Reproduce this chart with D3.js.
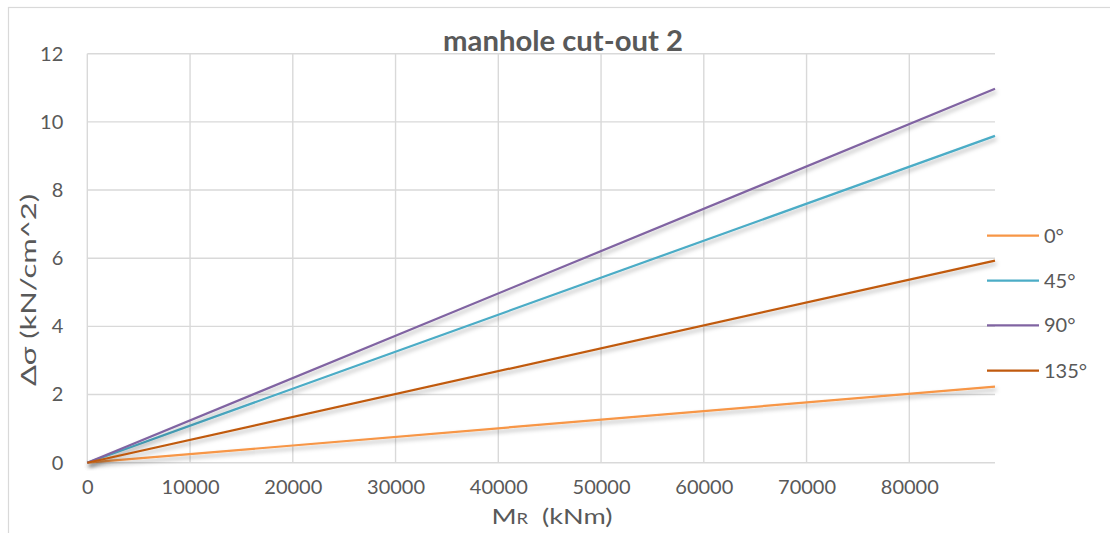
<!DOCTYPE html>
<html>
<head>
<meta charset="utf-8">
<script src="https://cdn.jsdelivr.net/npm/d3@7"></script>
<style>
  html, body { margin: 0; padding: 0; background: #fff; }
  svg { display: block; font-family: Lato, "Open Sans", sans-serif; }
</style>
</head>
<body>
<svg id="chart" width="1110" height="533"></svg>
<script>
// Series: stress increase Δσ against moment M_R, one line per angle
const seriesNames = ["0°", "45°", "90°", "135°"];
const seriesColors = ["#F79646", "#4BACC6", "#8064A2", "#C05A0E"];
const momentValues = [0, 88340];
const stress0 = [0, 2.23];
const stress45 = [0, 9.59];
const stress90 = [0, 10.97];
const stress135 = [0, 5.93];
const xTicks = [0, 10000, 20000, 30000, 40000, 50000, 60000, 70000, 80000];
const yTicks = [0, 2, 4, 6, 8, 10, 12];

const seriesValues = [stress0, stress45, stress90, stress135];

const svg = d3.select("#chart");
const W = 1110, H = 533;
const plot = { left: 87.3, right: 995, top: 53.7, bottom: 462.7 };

// Outer chart frame (extends beyond the visible canvas on right/bottom)
svg.append("rect")
  .attr("x", 8.5).attr("y", 7.5)
  .attr("width", W + 20).attr("height", H + 20)
  .attr("fill", "#fff").attr("stroke", "#d9d9d9").attr("stroke-width", 1.2);

const x = d3.scaleLinear().domain([0, 88340]).range([plot.left, plot.right]);
const y = d3.scaleLinear().domain([0, 12]).range([plot.bottom, plot.top]);

const defs = svg.append("defs");
const f = defs.append("filter").attr("id", "shadow")
  .attr("x", "-10%").attr("y", "-10%").attr("width", "130%").attr("height", "140%");
f.append("feDropShadow")
  .attr("dx", 1.5).attr("dy", 3).attr("stdDeviation", 2)
  .attr("flood-color", "#000").attr("flood-opacity", 0.3);

// Gridlines
const grid = svg.append("g");
grid.selectAll("line.h").data(yTicks).join("line")
  .attr("x1", plot.left).attr("x2", plot.right)
  .attr("y1", d => y(d)).attr("y2", d => y(d))
  .attr("stroke", "#d9d9d9").attr("stroke-width", 1.4);
grid.selectAll("line.v").data(xTicks).join("line")
  .attr("x1", d => x(d)).attr("x2", d => x(d))
  .attr("y1", plot.top).attr("y2", plot.bottom)
  .attr("stroke", "#d9d9d9").attr("stroke-width", 1.4);

// Axes (labels only; gridlines drawn above)
const yAxis = d3.axisLeft(y).tickValues(yTicks).tickSize(0).tickPadding(24);
svg.append("g").attr("transform", `translate(${plot.left},0)`).call(yAxis)
  .call(g => g.select(".domain").remove())
  .call(g => g.selectAll("text").attr("fill", "#595959")
    .style("font-size", "20px").style("font-family", "Lato, sans-serif"));

const xAxis = d3.axisBottom(x).tickValues(xTicks).tickSize(0).tickPadding(17)
  .tickFormat(d3.format("d"));
svg.append("g").attr("transform", `translate(0,${plot.bottom})`).call(xAxis)
  .call(g => g.select(".domain").remove())
  .call(g => g.selectAll("text").attr("fill", "#595959")
    .style("font-size", "20px").style("font-family", "Lato, sans-serif"));

// Lines
const line = d3.line().x(d => x(d[0])).y(d => y(d[1]));
const lines = svg.append("g");
seriesValues.forEach((vals, i) => {
  const pts = momentValues.map((m, j) => [m, vals[j]]);
  lines.append("path")
    .attr("d", line(pts))
    .attr("fill", "none")
    .attr("stroke", seriesColors[i])
    .attr("stroke-width", 2.2)
    .attr("filter", "url(#shadow)");
});

// Title
svg.append("text")
  .attr("x", 563).attr("y", 51)
  .attr("text-anchor", "middle")
  .attr("fill", "#595959")
  .attr("textLength", 240).attr("lengthAdjust", "spacingAndGlyphs")
  .style("font-size", "28px").style("font-weight", "bold")
  .text("manhole cut-out 2");

// Axis titles
svg.append("text")
  .attr("transform", "translate(36,290) rotate(-90)")
  .attr("text-anchor", "middle")
  .attr("fill", "#595959")
  .attr("textLength", 192).attr("lengthAdjust", "spacingAndGlyphs")
  .style("font-size", "22px")
  .text("Δσ (kN/cm^2)");

const xt = svg.append("text")
  .attr("x", 552).attr("y", 524)
  .attr("text-anchor", "middle")
  .attr("fill", "#595959")
  .attr("textLength", 121).attr("lengthAdjust", "spacingAndGlyphs")
  .style("font-size", "22px");
xt.append("tspan").text("M");
xt.append("tspan").style("font-size", "15px").text("R");
xt.append("tspan").text("  (kNm)").attr("xml:space", "preserve");

// Legend
const legendY = [235.7, 280.7, 325.3, 370.7];
const legend = svg.append("g");
seriesNames.forEach((name, i) => {
  legend.append("line")
    .attr("x1", 987).attr("x2", 1039)
    .attr("y1", legendY[i]).attr("y2", legendY[i])
    .attr("stroke", seriesColors[i]).attr("stroke-width", 2.2);
  legend.append("text")
    .attr("x", 1044).attr("y", legendY[i])
    .attr("dy", "0.35em")
    .attr("fill", "#595959")
    .style("font-size", "20px")
    .text(name);
});
</script>
</body>
</html>
